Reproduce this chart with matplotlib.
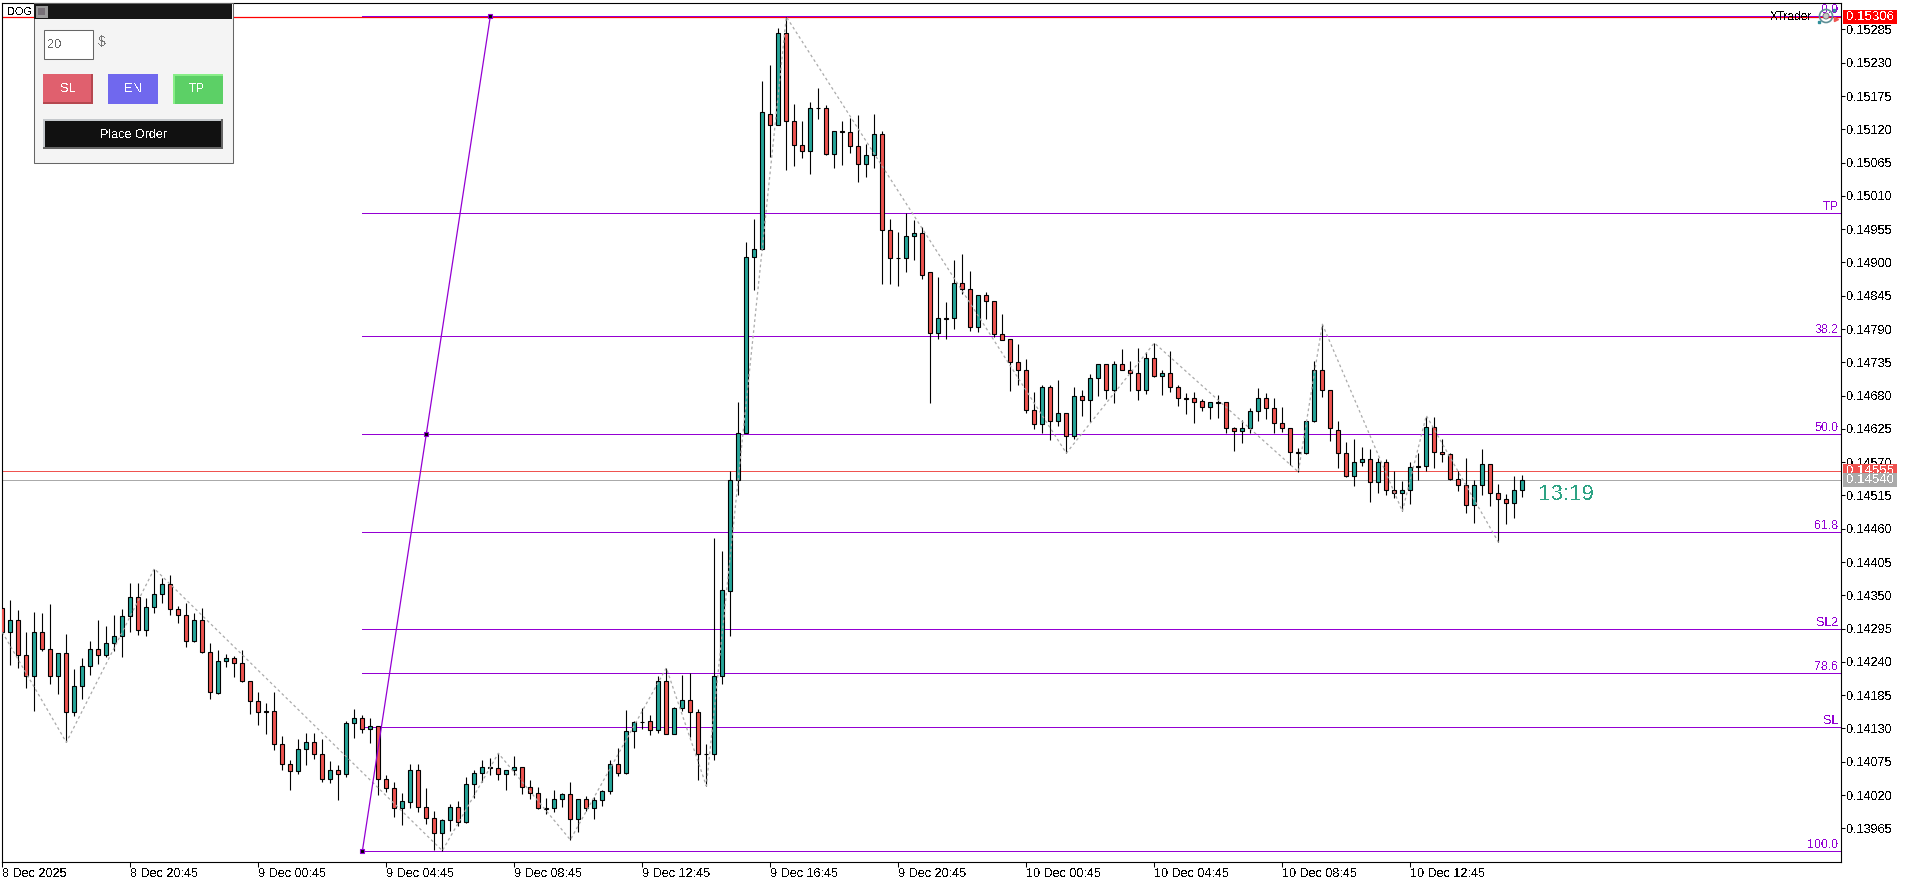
import numpy as np
import matplotlib
matplotlib.use("Agg")
import matplotlib.pyplot as plt
from matplotlib.patches import Rectangle, Circle
from matplotlib.transforms import blended_transform_factory

plt.rcParams["font.family"] = ["Liberation Sans", "DejaVu Sans"]
plt.rcParams["text.antialiased"] = False

# 15 minute candles, prices in 1e-5 units
opens = [
    14329, 14289, 14310, 14251, 14216, 14290, 14261, 14216, 14254, 14157,
    14200, 14234, 14261, 14252, 14271, 14282, 14315, 14347, 14292, 14330,
    14352, 14368, 14327, 14317, 14274, 14309, 14256, 14188, 14241, 14246,
    14238, 14208, 14175, 14158, 14158, 14104, 14072, 14059, 14096, 14107,
    14087, 14046, 14061, 14054, 14139, 14147, 14129, 14134, 14046, 14031,
    13998, 14008, 14061, 14001, 13982, 13957, 13978, 14000, 13975, 14038,
    14056, 14066, 14064, 14054, 14061, 14067, 14033, 14023, 13998, 13998,
    14013, 14021, 13980, 14013, 13998, 14011, 14026, 14072, 14056, 14125,
    14141, 14142, 14127, 14208, 14120, 14163, 14177, 14157, 14087, 14087,
    14216, 14357, 14540, 14618, 14909, 14922, 15146, 15128, 15280, 15133,
    15094, 15084, 15156, 15156, 15080, 15118, 15115, 15092, 15062, 15077,
    15112, 14953, 14908, 14907, 14943, 14948, 14884, 14783, 14808, 14808,
    14866, 14857, 14793, 14846, 14837, 14781, 14773, 14735, 14722, 14657,
    14633, 14695, 14638, 14652, 14614, 14680, 14672, 14709, 14733, 14689,
    14732, 14723, 14717, 14689, 14742, 14713, 14717, 14694, 14676, 14676,
    14671, 14661, 14669, 14669, 14626, 14621, 14626, 14654, 14676, 14659,
    14634, 14626, 14586, 14585, 14638, 14722, 14689, 14623, 14585, 14547,
    14571, 14575, 14537, 14571, 14524, 14519, 14524, 14563, 14563, 14628,
    14586, 14583, 14543, 14533, 14499, 14533, 14567, 14519, 14509, 14502,
    14524,
]
highs = [
    14329, 14342, 14326, 14289, 14322, 14321, 14336, 14254, 14286, 14228,
    14246, 14275, 14309, 14299, 14318, 14327, 14370, 14370, 14345, 14394,
    14379, 14384, 14332, 14337, 14321, 14329, 14271, 14260, 14253, 14249,
    14260, 14208, 14190, 14172, 14190, 14118, 14078, 14113, 14123, 14123,
    14113, 14076, 14070, 14142, 14162, 14152, 14147, 14134, 14053, 14041,
    14024, 14071, 14071, 14032, 13994, 13980, 14005, 14010, 14049, 14061,
    14078, 14081, 14089, 14061, 14085, 14067, 14045, 14033, 14015, 14028,
    14024, 14041, 14013, 14018, 14016, 14028, 14078, 14097, 14160, 14142,
    14163, 14152, 14217, 14230, 14165, 14218, 14222, 14162, 14104, 14445,
    14423, 14555, 14670, 14934, 14972, 15200, 15226, 15287, 15306, 15162,
    15134, 15165, 15188, 15160, 15118, 15134, 15139, 15144, 15096, 15145,
    15118, 14972, 14950, 14981, 14970, 14959, 14884, 14876, 14835, 14904,
    14914, 14886, 14846, 14851, 14837, 14815, 14773, 14765, 14741, 14686,
    14697, 14698, 14706, 14652, 14694, 14689, 14716, 14733, 14733, 14737,
    14757, 14737, 14759, 14752, 14767, 14722, 14754, 14698, 14684, 14686,
    14674, 14669, 14681, 14669, 14628, 14639, 14660, 14693, 14684, 14676,
    14661, 14626, 14593, 14638, 14738, 14798, 14689, 14638, 14603, 14608,
    14595, 14592, 14577, 14576, 14555, 14539, 14571, 14585, 14645, 14645,
    14608, 14585, 14555, 14577, 14540, 14592, 14567, 14534, 14517, 14547,
    14549,
]
lows = [
    14289, 14235, 14230, 14197, 14159, 14258, 14204, 14187, 14107, 14151,
    14179, 14218, 14237, 14248, 14258, 14248, 14289, 14284, 14283, 14321,
    14337, 14318, 14304, 14265, 14273, 14255, 14179, 14187, 14232, 14215,
    14207, 14154, 14136, 14121, 14094, 14061, 14028, 14055, 14070, 14079,
    14042, 14040, 14012, 14050, 14114, 14123, 14106, 14020, 14025, 13984,
    13971, 13999, 13992, 13972, 13929, 13928, 13961, 13969, 13974, 14015,
    14041, 14053, 14045, 14028, 14053, 14022, 14013, 13997, 13989, 13992,
    14000, 13946, 13959, 13993, 13980, 14002, 14022, 14051, 14055, 14098,
    14129, 14119, 14123, 14120, 14120, 14158, 14116, 14045, 14035, 14078,
    14204, 14282, 14516, 14618, 14855, 14921, 15075, 15128, 15053, 15059,
    15073, 15046, 15137, 15078, 15056, 15061, 15081, 15033, 15041, 15056,
    14864, 14864, 14861, 14884, 14904, 14873, 14668, 14774, 14774, 14790,
    14848, 14787, 14785, 14807, 14777, 14772, 14688, 14698, 14651, 14625,
    14618, 14607, 14630, 14585, 14608, 14646, 14636, 14679, 14674, 14668,
    14723, 14688, 14673, 14683, 14711, 14681, 14686, 14663, 14650, 14635,
    14655, 14641, 14643, 14618, 14589, 14602, 14618, 14638, 14641, 14618,
    14620, 14565, 14554, 14584, 14637, 14678, 14605, 14560, 14546, 14531,
    14564, 14504, 14519, 14516, 14511, 14489, 14501, 14541, 14555, 14560,
    14570, 14540, 14522, 14486, 14470, 14516, 14498, 14438, 14468, 14478,
    14513,
]
closes = [
    14289, 14310, 14251, 14216, 14290, 14261, 14216, 14254, 14157, 14200,
    14234, 14261, 14252, 14271, 14282, 14315, 14347, 14292, 14330, 14352,
    14368, 14327, 14317, 14274, 14309, 14256, 14190, 14241, 14246, 14238,
    14208, 14175, 14157, 14157, 14104, 14072, 14059, 14096, 14107, 14087,
    14046, 14061, 14054, 14139, 14147, 14129, 14134, 14046, 14031, 13998,
    14010, 14061, 14001, 13982, 13957, 13978, 14000, 13975, 14038, 14056,
    14066, 14064, 14054, 14061, 14067, 14033, 14023, 13998, 13997, 14013,
    14021, 13980, 14013, 13998, 14011, 14026, 14072, 14056, 14125, 14140,
    14140, 14127, 14208, 14120, 14163, 14177, 14157, 14087, 14087, 14216,
    14358, 14540, 14618, 14909, 14922, 15148, 15128, 15280, 15133, 15094,
    15084, 15156, 15155, 15080, 15118, 15115, 15092, 15062, 15077, 15112,
    14953, 14908, 14907, 14943, 14948, 14880, 14783, 14808, 14807, 14866,
    14857, 14793, 14846, 14837, 14781, 14772, 14735, 14722, 14657, 14633,
    14695, 14638, 14652, 14614, 14680, 14672, 14709, 14733, 14689, 14732,
    14723, 14717, 14689, 14742, 14713, 14717, 14694, 14676, 14675, 14670,
    14661, 14669, 14668, 14626, 14621, 14626, 14654, 14676, 14659, 14634,
    14626, 14586, 14585, 14638, 14723, 14689, 14626, 14585, 14547, 14571,
    14575, 14537, 14571, 14524, 14519, 14524, 14562, 14562, 14628, 14586,
    14583, 14543, 14533, 14499, 14533, 14567, 14519, 14509, 14502, 14524,
    14540,
]

# zigzag pivots (candle index, price)
zigzag_idx = [0, 8, 19, 55, 62, 71, 83, 88, 98, 133, 144, 162, 165, 175, 178, 187]
zigzag_val = [14289, 14107, 14394, 13928, 14089, 13946, 14230, 14035, 15306,
              14585, 14767, 14554, 14798, 14489, 14647, 14438]

# fib tool
fib_names = ["0.0", "TP", "38.2", "50.0", "61.8", "SL2", "78.6", "SL", "100.0"]
fib_vals = [15307, 14981, 14779, 14617, 14454, 14294, 14222, 14133, 13927]
fib_start = 45
fib_trend_idx = [45, 53, 61]
fib_trend_val = [13927, 14617, 15307]

high_price = 15306
ask_price = 14555
bid_price = 14540

x_tick_idx = [0, 16, 32, 48, 64, 80, 96, 112, 128, 144, 160, 176]
x_tick_labels = [
    "8 Dec 2025", "8 Dec 20:45", "9 Dec 00:45", "9 Dec 04:45", "9 Dec 08:45",
    "9 Dec 12:45", "9 Dec 16:45", "9 Dec 20:45", "10 Dec 00:45",
    "10 Dec 04:45", "10 Dec 08:45", "10 Dec 12:45",
]
y_ticks = [
    13965, 14020, 14075, 14130, 14185, 14240, 14295, 14350, 14405, 14460,
    14515, 14570, 14625, 14680, 14735, 14790, 14845, 14900, 14955, 15010,
    15065, 15120, 15175, 15230, 15285,
]

W, H = 1910, 885
TEAL = "#26a69a"
RED = "#ef5350"
PURPLE = "#9400d3"
FS = 9.1


def draw_candles(ax):
    x = np.arange(len(opens))
    o = np.array(opens) / 1e5
    c = np.array(closes) / 1e5
    ax.vlines(x, np.array(lows) / 1e5, np.array(highs) / 1e5,
              color="k", lw=0.8, zorder=3)
    colors = [TEAL if b >= a else RED for a, b in zip(opens, closes)]
    ax.bar(x, c - o, bottom=o, width=0.5, color=colors, edgecolor="k",
           linewidth=0.8, zorder=4)


def draw_fib(ax):
    trans = blended_transform_factory(ax.transAxes, ax.transData)
    ax.axhline(high_price / 1e5, color="#ff0000", lw=0.9, zorder=2)
    ax.axhline(ask_price / 1e5, color=RED, lw=0.72, zorder=2)
    ax.axhline(bid_price / 1e5, color="#aaaaaa", lw=0.72, zorder=2)
    xmax = ax.get_xlim()[1]
    for name, v in zip(fib_names, fib_vals):
        ax.plot([fib_start, xmax], [v / 1e5, v / 1e5], color=PURPLE, lw=0.72,
                zorder=2.5)
        ax.annotate(name, xy=(1, v / 1e5), xycoords=trans, xytext=(-2, 0),
                    textcoords="offset pixels", ha="right", va="bottom",
                    color=PURPLE, fontsize=8.9, zorder=6)
    tx = np.array(fib_trend_idx)
    ty = np.array(fib_trend_val) / 1e5
    ax.plot(tx, ty, color=PURPLE, lw=0.9, zorder=5)
    ax.plot(tx, ty, ls="none", marker="s", ms=3.4, mfc="k", mec=PURPLE,
            mew=0.8, zorder=5.1)


def price_tag(ax, price, text, color, z):
    trans = blended_transform_factory(ax.transAxes, ax.transData)
    x0 = 1 + 2.6 / ax.bbox.width
    w = 54.0 / ax.bbox.width
    h = 14.0 * 1.6525 / 1e5
    ax.add_patch(Rectangle((x0, price / 1e5 - h / 2), w, h, transform=trans,
                           fc=color, ec="none", clip_on=False, zorder=z))
    ax.text(x0 + w / 2, price / 1e5, text, transform=trans, color="white",
            ha="center", va="center", fontsize=FS + 0.4, clip_on=False, zorder=z + 0.1)


def box(ov, x0, y0, x1, y1, fc, ec="none", lw=0.75, z=2):
    ov.add_patch(Rectangle((x0, y0), x1 - x0, y1 - y0, fc=fc, ec=ec, lw=lw, zorder=z))


def draw_panel(ov):
    ov.text(7.5, 12, "DOG", ha="left", va="center", fontsize=7.9, color="k")
    box(ov, 33.5, 3, 232.5, 162.5, "#f4f4f4", "#666666", 0.75, 2)
    box(ov, 34, 3.5, 232, 19, "#161616", z=3)
    box(ov, 35.5, 5.5, 48, 18, "#9a9a9a", z=4)
    box(ov, 38, 8, 45, 15, "#777077", z=5)
    box(ov, 43.5, 29.5, 92.5, 58.5, "white", "#666666", 0.75, 3)
    ov.text(47.5, 45, "20", ha="left", va="center", fontsize=9.2, color="#666666", zorder=4)
    ov.text(98, 42, "$", ha="left", va="center", fontsize=10, color="#777777", zorder=4)

    box(ov, 43, 74, 93, 104, "#b5474f", z=3)
    box(ov, 43, 74, 91, 102, "#e0606e", z=4)
    ov.text(68, 89.5, "SL", ha="center", va="center", fontsize=9.2, color="white", zorder=5)

    box(ov, 108, 74, 158, 104, "#7068ee", z=3)
    ov.text(133, 89.5, "EN", ha="center", va="center", fontsize=9.2, color="white", zorder=5)

    box(ov, 173, 74, 223, 104, "#88ee88", z=3)
    box(ov, 175, 76, 223, 104, "#5cd066", z=4)
    ov.text(197, 89.5, "TP", ha="center", va="center", fontsize=9.2, color="white", zorder=5)

    box(ov, 43, 119, 223, 149, "#666666", z=3)
    box(ov, 43, 119, 221, 147, "#c4c8cc", z=4)
    box(ov, 45, 121, 221, 147, "#111111", z=5)
    ov.text(133, 135, "Place Order", ha="center", va="center", fontsize=9,
            color="white", zorder=6)

    # robot icon top right
    ov.add_patch(Circle((1826, 16), 6.5, fc="none", ec="#5f8f96", lw=1.2, zorder=6))
    ov.add_patch(Circle((1826, 16), 3, fc="#c8c8c8", ec="#777777", lw=0.7, zorder=6))
    ov.plot([1818.5, 1834], [22, 10], ls="none", marker="s", ms=1.8, color="#2f8f9a", zorder=6)
    ov.plot([1836], [19], ls="none", marker=">", ms=3, color=RED, zorder=6)
    ov.text(1791, 17, "XTrader", ha="center", va="center", fontsize=8.6, color="k", zorder=6)


def plot_chart():
    fig = plt.figure(figsize=(W / 100, H / 100), dpi=100, facecolor="white")
    left, right, top, bottom = 2.33, 1840.5, 2.5, 861.5
    ax = fig.add_axes([left / W, 1 - bottom / H, (right - left) / W, (bottom - top) / H])
    ax.set_xlim(0, (right - left) / 8.0)
    ax.set_ylim((15285 - 1.6525 * (bottom - 29.5)) / 1e5,
                (15285 - 1.6525 * (top - 29.5)) / 1e5)
    for s in ax.spines.values():
        s.set_linewidth(0.8)

    ax.yaxis.tick_right()
    ax.set_yticks(np.array(y_ticks) / 1e5)
    ax.set_yticklabels([f"{v / 1e5:.5f}" for v in y_ticks])
    ax.tick_params(axis="y", length=3.2, width=0.75, pad=1, labelsize=FS)
    for lab in ax.get_yticklabels():
        lab.set_va("center_baseline")
    ax.set_xticks(x_tick_idx)
    ax.set_xticklabels(x_tick_labels, ha="left")
    ax.tick_params(axis="x", length=3.5, width=0.75, pad=1.5, labelsize=FS)

    draw_fib(ax)
    draw_candles(ax)
    ax.plot(zigzag_idx, np.array(zigzag_val) / 1e5, color="#aaaaaa", lw=0.9,
            ls=(0, (2.2, 2.2)), zorder=4.5)

    ax.text(192.0, 14516 / 1e5, "13:19", color="#2ea384", fontsize=16,
            ha="left", va="center", zorder=6)

    price_tag(ax, high_price, "0.15306", "#ff0000", 7)
    price_tag(ax, ask_price, "0.14555", RED, 7)
    price_tag(ax, bid_price, "0.14540", "#aaaaaa", 7.5)

    ov = fig.add_axes([0, 0, 1, 1], facecolor="none")
    ov.set_xlim(0, W)
    ov.set_ylim(H, 0)
    ov.axis("off")
    draw_panel(ov)

    fig.savefig("out.png", dpi=100)


if __name__ == "__main__":
    for name, s in [("highs", highs), ("lows", lows), ("closes", closes)]:
        assert len(s) == len(opens), name
    plot_chart()
